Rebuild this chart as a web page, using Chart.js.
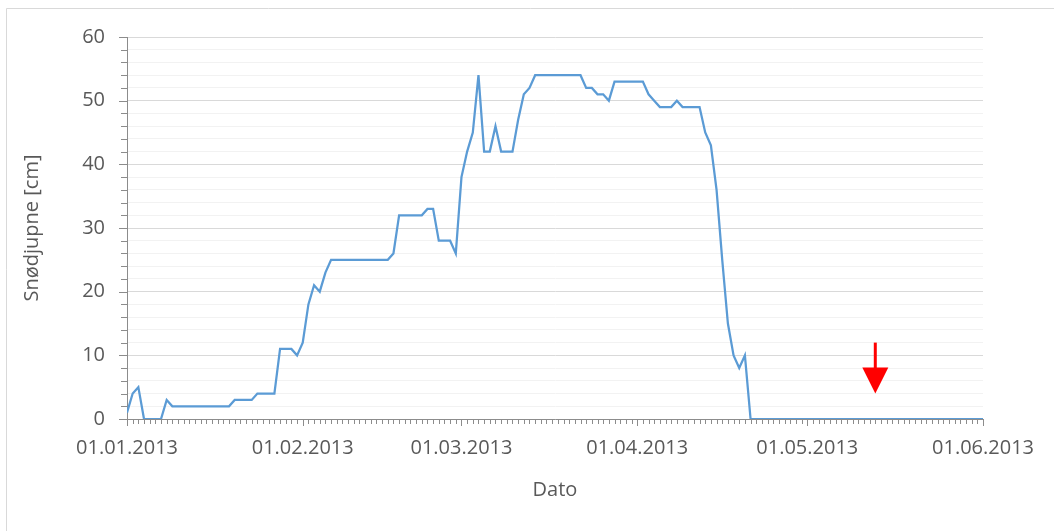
<!DOCTYPE html>
<html>
<head>
<meta charset="utf-8">
<script src="https://cdn.jsdelivr.net/npm/chart.js@4"></script>
<style>
  html, body { margin: 0; padding: 0; background: #ffffff; }
  #wrap { width: 1054px; height: 531px; position: relative; }
</style>
</head>
<body>
<div id="wrap"><canvas id="c" width="1054" height="531"></canvas></div>
<script>
// ---- Data (day index 0 = 01.01.2013) ----
const snowDepth = [
  1, 4, 5, 0, 0, 0, 0, 3,
  2, 2, 2, 2, 2, 2, 2, 2, 2, 2, 2,
  3, 3, 3, 3,
  4, 4, 4, 4,
  11, 11, 11, 10,
  12, 18, 21, 20, 23,
  25, 25, 25, 25, 25, 25, 25, 25, 25, 25, 25,
  26,
  32, 32, 32, 32, 32,
  33, 33,
  28, 28, 28, 26,
  38, 42, 45, 54, 42, 42, 46, 42, 42, 42, 47, 51, 52,
  54, 54, 54, 54, 54, 54, 54, 54, 54,
  52, 52, 51, 51, 50,
  53, 53, 53, 53, 53, 53,
  51, 50, 49, 49, 49, 50, 49, 49, 49, 49,
  45, 43, 36, 25, 15, 10, 8, 10,
  0, 0, 0, 0, 0, 0, 0, 0, 0, 0, 0, 0, 0, 0, 0, 0, 0, 0, 0, 0, 0,
  0, 0, 0, 0, 0, 0, 0, 0, 0, 0, 0, 0, 0, 0, 0, 0, 0, 0, 0, 0, 0
];
const tickDays   = [0, 31, 59, 90, 120, 151];
const tickLabels = ['01.01.2013', '01.02.2013', '01.03.2013', '01.04.2013', '01.05.2013', '01.06.2013'];
const yMin = 0, yMax = 60, yMajorStep = 10, yMinorStep = 2;
const xTitle = 'Dato';
const yTitle = 'Snødjupne [cm]';
// red arrow annotation (in data units)
const arrowDay = 132, arrowTop = 12, arrowTip = 4;

const FONT = "'Open Sans', 'Liberation Sans', sans-serif";
const TEXT = '#595959';
const AXIS = '#8c8c8c';

const points = snowDepth.map((v, i) => ({ x: i, y: v }));
const yTickValues = [];
for (let v = yMin; v <= yMax; v += yMinorStep) yTickValues.push(v);

const decorPlugin = {
  id: 'decor',
  beforeDraw(chart) {
    const ctx = chart.ctx;
    ctx.save();
    ctx.fillStyle = '#ffffff';
    ctx.fillRect(0, 0, chart.width, chart.height);
    ctx.strokeStyle = '#d9d9d9';
    ctx.lineWidth = 1;
    ctx.beginPath();
    ctx.moveTo(6.5, chart.height);
    ctx.lineTo(6.5, 8.5);
    ctx.lineTo(chart.width, 8.5);
    ctx.stroke();
    ctx.restore();
  },
  afterDraw(chart) {
    const ctx = chart.ctx;
    const xs = chart.scales.x, ys = chart.scales.y;
    const area = chart.chartArea;
    ctx.save();
    ctx.strokeStyle = AXIS;
    ctx.lineWidth = 1;
    ctx.beginPath();
    // x minor ticks every day
    for (let d = xs.min; d <= xs.max; d++) {
      const px = Math.round(xs.getPixelForValue(d)) + 0.5;
      const len = tickDays.includes(d) ? 7 : 5;
      ctx.moveTo(px, area.bottom);
      ctx.lineTo(px, area.bottom + len);
    }
    // y ticks
    for (const v of yTickValues) {
      const py = Math.round(ys.getPixelForValue(v)) + 0.5;
      const len = v % yMajorStep === 0 ? 8 : 6;
      ctx.moveTo(area.left, py);
      ctx.lineTo(area.left - len, py);
    }
    ctx.stroke();

    // red arrow
    const ax = xs.getPixelForValue(arrowDay);
    const yTop = ys.getPixelForValue(arrowTop);
    const yTip = ys.getPixelForValue(arrowTip);
    const headH = 26, headHalf = 13;
    ctx.strokeStyle = '#ff0000';
    ctx.fillStyle = '#ff0000';
    ctx.lineWidth = 3;
    ctx.beginPath();
    ctx.moveTo(ax, yTop);
    ctx.lineTo(ax, yTip - headH + 2);
    ctx.stroke();
    ctx.beginPath();
    ctx.moveTo(ax - headHalf, yTip - headH);
    ctx.lineTo(ax + headHalf, yTip - headH);
    ctx.lineTo(ax, yTip);
    ctx.closePath();
    ctx.fill();
    ctx.restore();
  }
};

new Chart(document.getElementById('c'), {
  type: 'line',
  data: {
    datasets: [{
      data: points,
      borderColor: '#5b9bd5',
      borderWidth: 2.25,
      pointRadius: 0,
      tension: 0,
      fill: false
    }]
  },
  options: {
    responsive: false,
    animation: false,
    events: [],
    layout: { padding: { left: 0, right: 71, top: 37, bottom: 0 } },
    plugins: { legend: { display: false }, tooltip: { enabled: false } },
    scales: {
      x: {
        type: 'linear',
        min: tickDays[0],
        max: tickDays[tickDays.length - 1],
        afterBuildTicks(scale) { scale.ticks = tickDays.map(v => ({ value: v })); },
        afterFit(scale) { scale.height = 112; },
        grid: { display: false, drawTicks: false },
        border: { display: true, color: AXIS, width: 1 },
        ticks: {
          autoSkip: false, maxRotation: 0, minRotation: 0,
          padding: 17,
          color: TEXT,
          font: { family: FONT, size: 20 },
          callback: (v) => tickLabels[tickDays.indexOf(v)] ?? ''
        },
        title: {
          display: true, text: xTitle, color: TEXT,
          font: { family: FONT, size: 20 },
          padding: { top: 0, bottom: 29 }
        }
      },
      y: {
        min: yMin, max: yMax,
        afterBuildTicks(scale) { scale.ticks = yTickValues.map(v => ({ value: v })); },
        afterFit(scale) { scale.width = 127; },
        grid: {
          drawTicks: false,
          color: (c) => (c.tick && c.tick.value % yMajorStep === 0) ? '#d9d9d9' : '#f2f2f2',
          lineWidth: 1
        },
        border: { display: true, color: AXIS, width: 1 },
        ticks: {
          autoSkip: false,
          padding: 22,
          color: TEXT,
          font: { family: FONT, size: 20 },
          callback: (v) => (v % yMajorStep === 0 ? String(v) : '')
        },
        title: {
          display: true, text: yTitle, color: TEXT,
          font: { family: FONT, size: 20 },
          padding: { top: 20, bottom: 0 }
        }
      }
    }
  },
  plugins: [decorPlugin]
});
</script>
</body>
</html>
